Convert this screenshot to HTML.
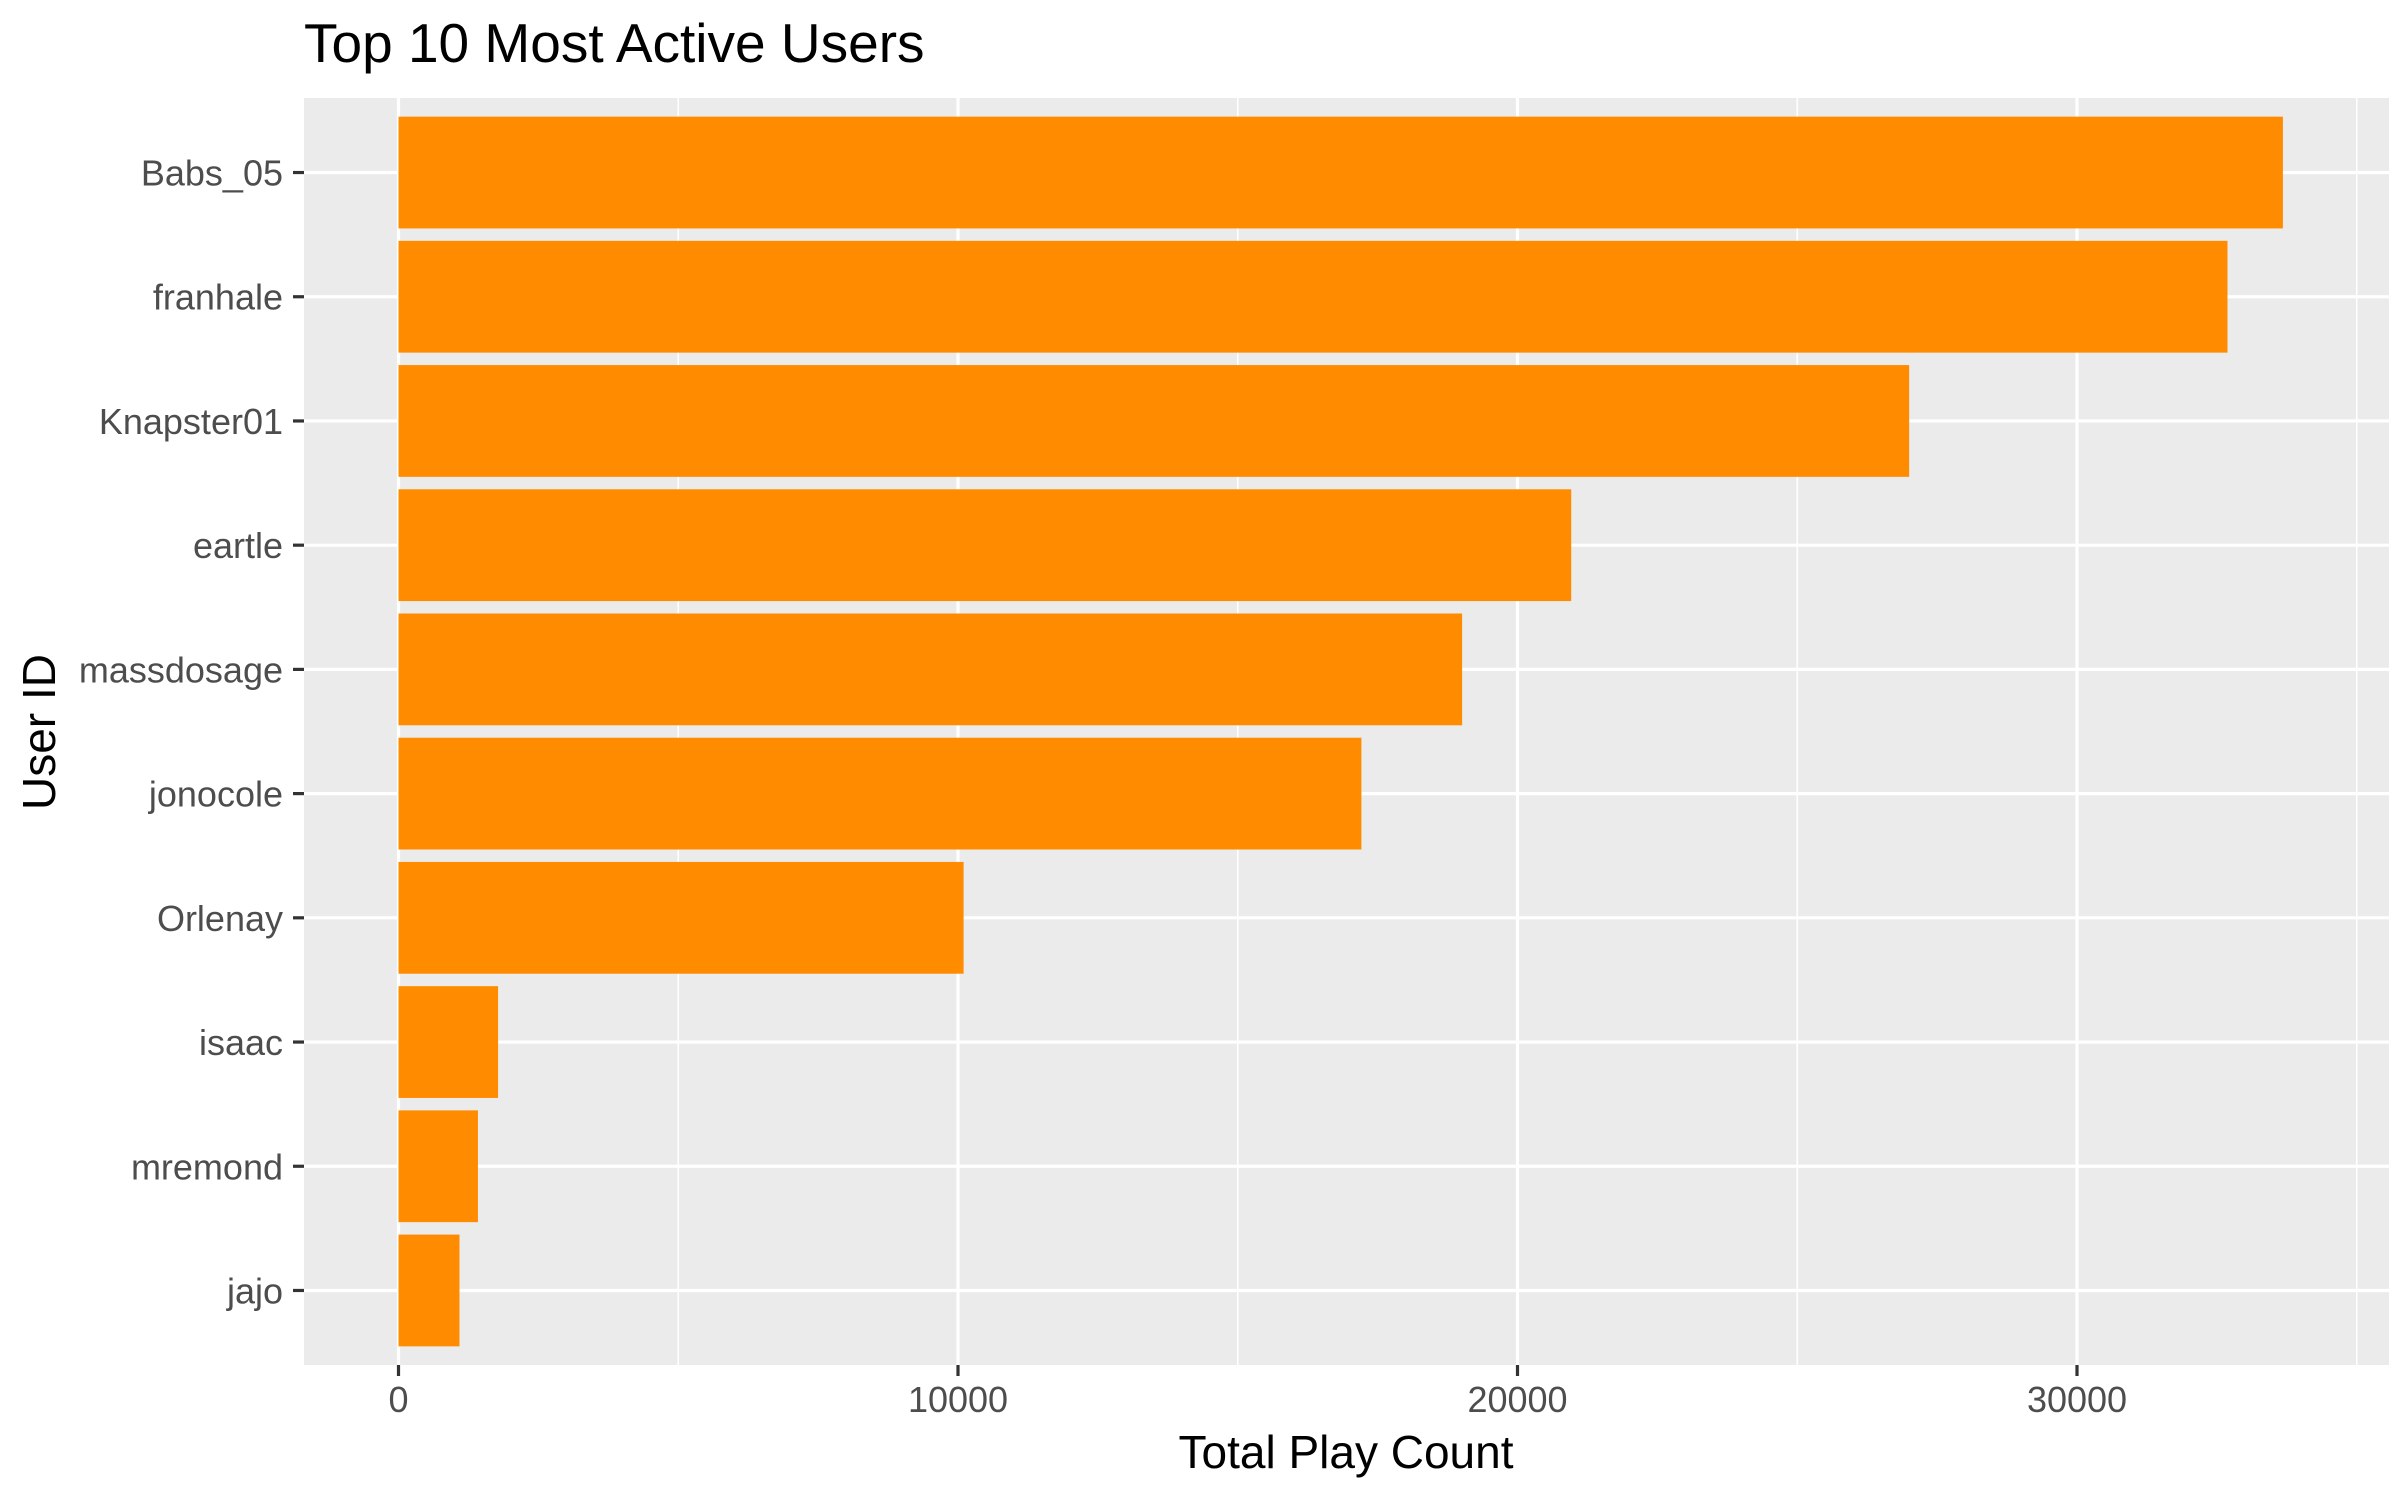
<!DOCTYPE html>
<html><head><meta charset="utf-8"><style>
html,body{margin:0;padding:0;background:#fff;}
svg{display:block;font-family:"Liberation Sans",sans-serif;}
</style></head><body>
<svg id="chart" width="2400" height="1500" viewBox="0 0 2400 1500">
<text x="304" y="62" font-size="55" fill="#000">Top 10 Most Active Users</text>
<rect x="304" y="98" width="2085" height="1267" fill="#ebebeb"/>
<g id="grid"></g><g id="bars"></g><g id="axes"></g>
<text x="1346" y="1468" font-size="46" text-anchor="middle" fill="#000">Total Play Count</text>
<text transform="translate(55,732) rotate(-90)" font-size="46" text-anchor="middle" fill="#000">User ID</text>
</svg>
<script>
const categories = ["Babs_05","franhale","Knapster01","eartle","massdosage","jonocole","Orlenay","isaac","mremond","jajo"];
const values = [33680,32690,27000,20960,19010,17210,10100,1780,1420,1090];
const xTicks = [0,10000,20000,30000];
const xTickLabels = ["0","10000","20000","30000"];
const xMinor = [5000,15000,25000,35000];

const NS="http://www.w3.org/2000/svg";
const pL=304,pR=2389,pT=98,pB=1365;
const x0=398.5, pxPer=0.05595;
function xs(v){return x0+v*pxPer;}
const step=(pB-pT)/(categories.length+0.2);
function ys(i){return pT+step*(0.6+i);}
function mk(tag,attrs,parent){const e=document.createElementNS(NS,tag);for(const k in attrs)e.setAttribute(k,attrs[k]);parent.appendChild(e);return e;}
const grid=document.getElementById('grid'),bars=document.getElementById('bars'),axes=document.getElementById('axes');
xMinor.forEach(v=>{const x=xs(v);if(x<pR){const l=mk('line',{x1:x,x2:x,y1:pT,y2:pB,stroke:'#fff','stroke-width':1.6},grid);

}});
xTicks.forEach((v,i)=>{const x=xs(v);
const l=mk('line',{x1:x,x2:x,y1:pT,y2:pB,stroke:'#fff','stroke-width':3.2},grid);


const t=mk('line',{x1:x,x2:x,y1:pB,y2:pB+11,stroke:'#333','stroke-width':3.2},axes);


const tx=mk('text',{x:x,y:1412,'font-size':36,'text-anchor':'middle',fill:'#4d4d4d'},axes);tx.textContent=xTickLabels[i];

});
categories.forEach((c,i)=>{const y=ys(i);
const l=mk('line',{x1:pL,x2:pR,y1:y,y2:y,stroke:'#fff','stroke-width':3.2},grid);


const bh=step*0.9;
const b=mk('rect',{x:xs(0),y:y-bh/2,width:xs(values[i])-xs(0),height:bh,fill:'#ff8c00'},bars);


const t=mk('line',{x1:pL-11,x2:pL,y1:y,y2:y,stroke:'#333','stroke-width':3.2},axes);


const tx=mk('text',{x:283,y:y+13,'font-size':36,'text-anchor':'end',fill:'#4d4d4d'},axes);tx.textContent=c;

});
</script>
</body></html>
